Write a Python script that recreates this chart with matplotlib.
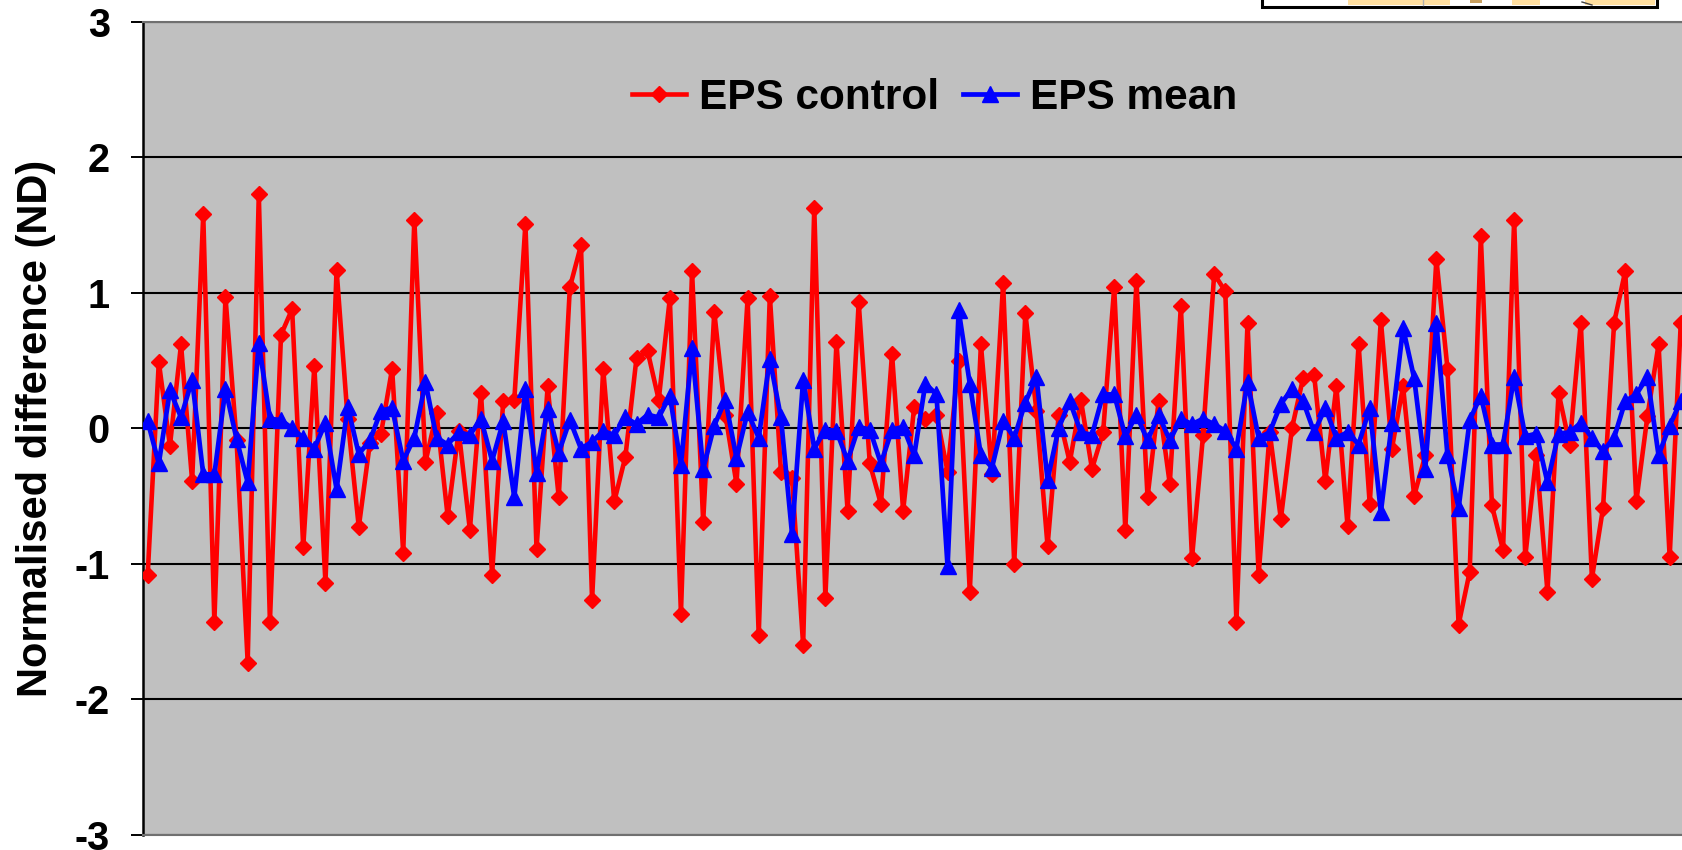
import matplotlib
matplotlib.use("Agg")
import matplotlib.pyplot as plt
from matplotlib.patches import Rectangle

plt.rcParams['font.family'] = ['Liberation Sans', 'DejaVu Sans']
plt.rcParams['font.weight'] = 'bold'
plt.rcParams['axes.unicode_minus'] = False

# Valores
eps_control = [
    -1.08, 0.49, -0.13, 0.62, -0.39, 1.58, -1.43, 0.97, -0.09, -1.73,
    1.73, -1.43, 0.69, 0.88, -0.88, 0.46, -1.14, 1.17, 0.07, -0.73,
    -0.11, -0.04, 0.44, -0.92, 1.54, -0.25, 0.11, -0.65, -0.02, -0.75,
    0.26, -1.08, 0.20, 0.21, 1.51, -0.89, 0.31, -0.51, 1.04, 1.35,
    -1.27, 0.44, -0.54, -0.21, 0.52, 0.57, 0.21, 0.96, -1.37, 1.16,
    -0.69, 0.86, 0.10, -0.41, 0.96, -1.53, 0.98, -0.32, -0.37, -1.60,
    1.63, -1.25, 0.64, -0.61, 0.93, -0.26, -0.56, 0.55, -0.61, 0.16,
    0.07, 0.10, -0.32, 0.50, -1.21, 0.62, -0.34, 1.07, -1.00, 0.85,
    0.13, -0.87, 0.10, -0.25, 0.21, -0.30, -0.03, 1.04, -0.75, 1.09,
    -0.51, 0.20, -0.41, 0.90, -0.96, -0.05, 1.14, 1.01, -1.43, 0.78,
    -1.08, -0.03, -0.67, 0.00, 0.37, 0.39, -0.39, 0.31, -0.72, 0.62,
    -0.56, 0.80, -0.15, 0.31, -0.50, -0.20, 1.25, 0.44, -1.45, -1.06,
    1.42, -0.57, -0.90, 1.54, -0.95, -0.20, -1.21, 0.26, -0.12, 0.78,
    -1.11, -0.59, 0.78, 1.16, -0.54, 0.09, 0.62, -0.95, 0.78,
]
eps_mean = [
    0.05, -0.26, 0.28, 0.08, 0.36, -0.34, -0.34, 0.29, -0.08, -0.40,
    0.63, 0.07, 0.06, 0.00, -0.07, -0.15, 0.04, -0.45, 0.16, -0.19,
    -0.09, 0.13, 0.15, -0.24, -0.07, 0.34, -0.07, -0.12, -0.03, -0.05,
    0.07, -0.24, 0.05, -0.51, 0.29, -0.33, 0.14, -0.18, 0.06, -0.15,
    -0.10, -0.02, -0.05, 0.08, 0.03, 0.10, 0.08, 0.24, -0.27, 0.59,
    -0.30, 0.02, 0.21, -0.22, 0.12, -0.07, 0.51, 0.08, -0.78, 0.36,
    -0.15, -0.01, -0.02, -0.24, 0.01, -0.01, -0.26, -0.01, 0.01, -0.20,
    0.33, 0.25, -1.02, 0.87, 0.33, -0.20, -0.29, 0.05, -0.07, 0.19,
    0.38, -0.38, 0.00, 0.20, -0.03, -0.05, 0.25, 0.25, -0.06, 0.10,
    -0.09, 0.10, -0.09, 0.07, 0.03, 0.07, 0.03, -0.02, -0.15, 0.34,
    -0.07, -0.03, 0.18, 0.29, 0.20, -0.03, 0.15, -0.07, -0.03, -0.12,
    0.15, -0.62, 0.04, 0.74, 0.37, -0.30, 0.78, -0.20, -0.59, 0.06,
    0.24, -0.12, -0.12, 0.38, -0.06, -0.04, -0.40, -0.04, -0.03, 0.04,
    -0.07, -0.17, -0.07, 0.20, 0.25, 0.38, -0.20, 0.02, 0.20,
]
y_ticks = [-3, -2, -1, 0, 1, 2, 3]
y_label = "Normalised difference (ND)"

W, H = 1683, 850
fig = plt.figure(figsize=(W / 100, H / 100), dpi=100)

# Area do grafico vai ate a borda direita, a serie fica cortada ali
left, top, bottom = 143, 22, 834.5
ax = fig.add_axes([left / W, 1 - bottom / H, (W - left) / W, (bottom - top) / H])
ax.set_facecolor('#C0C0C0')

x = list(range(len(eps_control)))
ax.plot(x, eps_control, color='#FF0000', lw=3.3, marker='D', ms=8.0,
        label="EPS control", zorder=3)
ax.plot(x, eps_mean, color='#0000FF', lw=3.4, marker='^', ms=11.4,
        label="EPS mean", zorder=4)

ax.set_xlim(-0.423, 138.2)
ax.set_ylim(-3, 3)
ax.set_xticks([])
ax.set_yticks(y_ticks)
ax.tick_params(axis='y', length=9, width=1.4, pad=15, labelsize=28.5)
ax.grid(axis='y', color='black', lw=1.5, zorder=1)
ax.set_ylabel(y_label, fontsize=30, fontweight='bold')
ax.yaxis.set_label_coords((56 - left) / (W - left), 0.5)

ax.spines['right'].set_visible(False)
ax.spines['left'].set_linewidth(1.8)
ax.spines['top'].set_color('#707070')
ax.spines['bottom'].set_color('#707070')
ax.spines['top'].set_linewidth(1.5)
ax.spines['bottom'].set_linewidth(1.5)

leg = ax.legend(loc='center', bbox_to_anchor=(934.5 / W, 1 - 98 / H),
                bbox_transform=fig.transFigure, ncol=2, frameon=False,
                fontsize=30.5, numpoints=1, handlelength=1.28,
                handletextpad=0.3, columnspacing=0.56, borderpad=0,
                borderaxespad=0)

# Pedaco do mapa cortado no topo da figura
over = fig.add_axes([0, 0, 1, 1], zorder=5)
over.set_xlim(0, W)
over.set_ylim(H, 0)
over.axis('off')
over.add_patch(Rectangle((1262, -4), 395, 10.5, fc='white', ec='black', lw=2.2))
for x0, x1 in [(1348, 1450), (1512, 1540), (1585, 1655)]:
    over.add_patch(Rectangle((x0, -2), x1 - x0, 7, fc='#FFDFA0', ec='none'))
over.add_patch(Rectangle((1470, -2), 12, 4.5, fc='#C8A060', ec='none'))
over.plot([1423, 1423], [0, 5], color='#B0B0B0', lw=1)
over.plot([1582, 1592], [2, 5], color='#404040', lw=1)

fig.savefig("out.png", dpi=100)
